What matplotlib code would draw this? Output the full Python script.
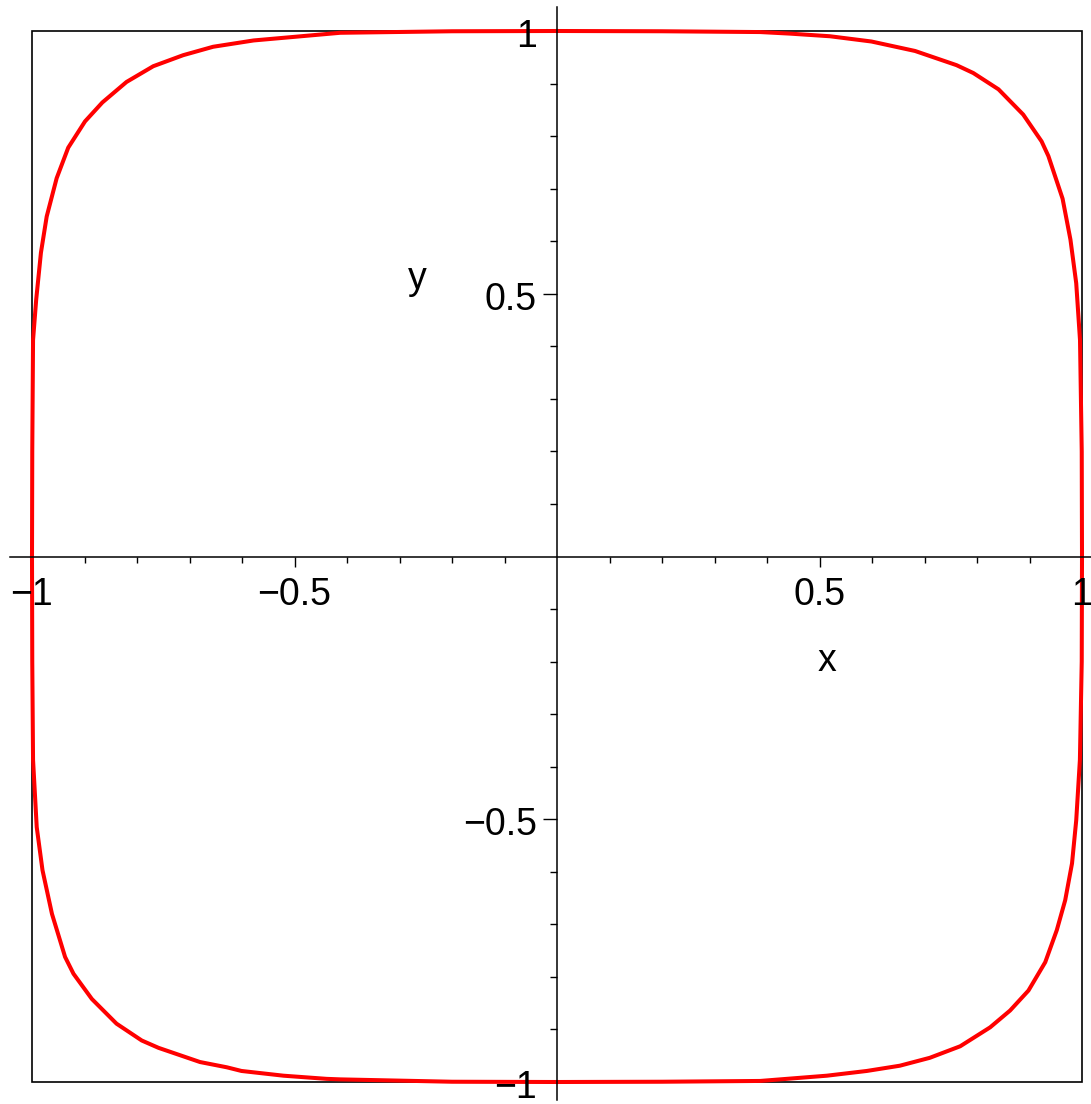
import matplotlib
matplotlib.use('Agg')
import matplotlib.pyplot as plt
from matplotlib.patches import Rectangle
from matplotlib.transforms import offset_copy

plt.rcParams['font.family'] = ['Liberation Sans', 'DejaVu Sans']

# closed curve, traced clockwise starting at (-1, 0)
curve_x = [-1.0, -0.9995, -0.998, -0.992, -0.983, -0.972, -0.953, -0.931, -0.899, -0.866,
           -0.820, -0.769, -0.712, -0.655, -0.578, -0.413, -0.2, 0.0, 0.2,
           0.387, 0.444, 0.520, 0.599, 0.682, 0.761, 0.793, 0.841, 0.888, 0.923,
           0.936, 0.963, 0.978, 0.989, 0.9962, 0.9995, 1.0, 0.9995,
           0.996, 0.989, 0.981, 0.968, 0.952, 0.930, 0.898, 0.863, 0.825, 0.768,
           0.710, 0.653, 0.590, 0.514, 0.387, 0.2, 0.0, -0.2,
           -0.413, -0.439, -0.521, -0.601, -0.629, -0.680, -0.759, -0.791, -0.839,
           -0.886, -0.921, -0.937, -0.962, -0.980, -0.991, -0.998, -0.9995, -1.0]
curve_y = [0.0, 0.2, 0.412, 0.489, 0.578, 0.647, 0.720, 0.778, 0.828, 0.864,
           0.903, 0.933, 0.954, 0.970, 0.982, 0.9966, 0.9995, 1.0, 0.9995,
           0.998, 0.995, 0.990, 0.980, 0.962, 0.935, 0.920, 0.889, 0.841, 0.790,
           0.762, 0.681, 0.603, 0.520, 0.412, 0.2, 0.0, -0.2,
           -0.387, -0.502, -0.584, -0.654, -0.711, -0.772, -0.826, -0.864, -0.896, -0.932,
           -0.954, -0.969, -0.979, -0.988, -0.998, -0.9995, -1.0, -0.9995,
           -0.995, -0.994, -0.988, -0.979, -0.972, -0.962, -0.935, -0.921, -0.889,
           -0.842, -0.794, -0.762, -0.680, -0.597, -0.515, -0.387, -0.2, 0.0]

major_ticks = [-1, -0.5, 0.5, 1]
major_labels = ['\u22121', '\u22120.5', '0.5', '1']
minor_ticks = [-0.9, -0.8, -0.7, -0.6, -0.4, -0.3, -0.2, -0.1,
               0.1, 0.2, 0.3, 0.4, 0.6, 0.7, 0.8, 0.9]

fig = plt.figure(figsize=(10.91, 11.04), dpi=100)
ax = fig.add_axes([32 / 1091, 22 / 1104, 1050 / 1091, 1051 / 1104])
ax.set_xlim(-1, 1)
ax.set_ylim(-1, 1)

ax.plot(curve_x, curve_y, color='#ff0000', lw=2.9, clip_on=False, solid_joinstyle='miter')

# axes through the origin, slightly longer than the box
ax.spines['left'].set_position(('data', 0))
ax.spines['bottom'].set_position(('data', 0))
ax.spines['top'].set_visible(False)
ax.spines['right'].set_visible(False)
ax.spines['bottom'].set_bounds(-1.042, 1.017)
ax.spines['left'].set_bounds(-1.035, 1.045)
for s in ('left', 'bottom'):
    ax.spines[s].set_linewidth(1.1)

# outer frame
ax.add_patch(Rectangle((0, 0), 1, 1, transform=ax.transAxes, fill=False,
                       edgecolor='black', lw=1.2, clip_on=False))

ax.set_xticks(major_ticks)
ax.set_yticks(major_ticks)
ax.set_xticks(minor_ticks, minor=True)
ax.set_yticks(minor_ticks, minor=True)
ax.set_xticklabels([])
ax.set_yticklabels([])
ax.tick_params(axis='x', which='major', direction='out', length=7.5, width=1.0)
ax.tick_params(axis='x', which='minor', direction='out', length=4.3, width=1.0)
ax.tick_params(axis='y', which='major', direction='out', length=10, width=1.0)
ax.tick_params(axis='y', which='minor', direction='out', length=5, width=1.0)

fs = 27
for v, lab in zip(major_ticks, major_labels):
    tx = offset_copy(ax.transData, fig=fig, x=0, y=-34.6, units='points')
    ax.text(v, 0, lab, transform=tx, ha='center', va='baseline', fontsize=fs)
    ty = offset_copy(ax.transData, fig=fig, x=-14.5, y=-11.5, units='points')
    ax.text(0, v, lab, transform=ty, ha='right', va='baseline', fontsize=fs)

ax.text(0.515, -0.217, 'x', ha='center', va='baseline', fontsize=fs)
ax.text(-0.267, 0.509, 'y', ha='center', va='baseline', fontsize=fs)

fig.savefig('out.png', dpi=100)
